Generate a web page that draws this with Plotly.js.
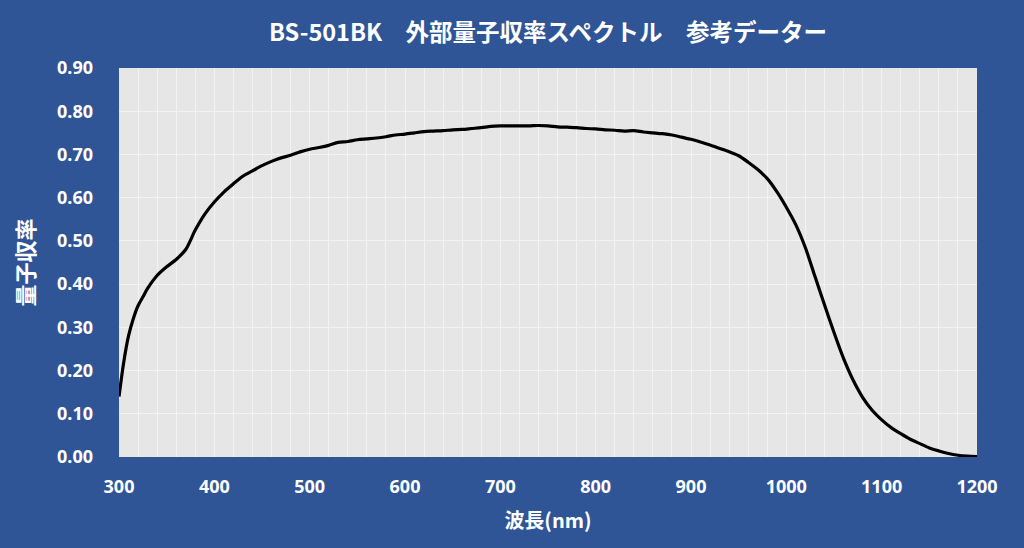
<!DOCTYPE html>
<html>
<head>
<meta charset="utf-8">
<script src="https://cdn.plot.ly/plotly-3.0.1.min.js"></script>
<style>
  html, body { margin: 0; padding: 0; background: #2f5597; }
  #chart { width: 1024px; height: 548px; }
</style>
</head>
<body>
<div id="chart"></div>
<script>
// Wavelength (nm) and external quantum efficiency
const wavelength = [
  300, 305, 310, 315, 320, 325, 330, 340, 350, 360,
  370, 380, 390, 400, 410, 420, 430, 440, 450, 460,
  470, 480, 490, 500, 510, 520, 530, 540, 550, 560,
  570, 580, 590, 600, 610, 620, 630, 640, 650, 660,
  670, 680, 690, 700, 710, 720, 730, 740, 750, 760,
  770, 780, 790, 800, 810, 820, 830, 840, 850, 860,
  870, 880, 890, 900, 910, 920, 930, 940, 950, 960,
  970, 980, 990, 1000, 1010, 1020, 1030, 1040, 1050, 1060,
  1070, 1080, 1090, 1100, 1110, 1120, 1130, 1140, 1150, 1160,
  1170, 1180, 1190, 1200
];
const eqe = [
  0.140, 0.220, 0.280, 0.320, 0.350, 0.370, 0.390, 0.420, 0.440, 0.457,
  0.480, 0.525, 0.562, 0.590, 0.613, 0.632, 0.650, 0.662, 0.674, 0.684,
  0.692, 0.698, 0.706, 0.712, 0.716, 0.721, 0.728, 0.730, 0.734, 0.736,
  0.738, 0.741, 0.745, 0.747, 0.750, 0.753, 0.754, 0.755, 0.757, 0.758,
  0.760, 0.762, 0.765, 0.766, 0.766, 0.766, 0.766, 0.767, 0.766, 0.764,
  0.763, 0.762, 0.760, 0.759, 0.757, 0.756, 0.754, 0.755, 0.752, 0.750,
  0.748, 0.745, 0.740, 0.735, 0.729, 0.722, 0.714, 0.706, 0.697, 0.682,
  0.665, 0.644, 0.614, 0.578, 0.537, 0.484, 0.418, 0.352, 0.288, 0.228,
  0.178, 0.138, 0.108, 0.086, 0.068, 0.054, 0.041, 0.031, 0.021, 0.014,
  0.008, 0.004, 0.002, 0.001
];
const yTicks = [0, 0.1, 0.2, 0.3, 0.4, 0.5, 0.6, 0.7, 0.8, 0.9];
const xTicks = [300, 400, 500, 600, 700, 800, 900, 1000, 1100, 1200];

const cjk = '"Noto Sans CJK JP", "Noto Sans", sans-serif';
const latin = '"Noto Sans", "Open Sans", sans-serif';

const trace = {
  x: wavelength,
  y: eqe,
  type: 'scatter',
  mode: 'lines',
  line: { color: '#000000', width: 3.2, shape: 'spline', smoothing: 0.8 },
  hoverinfo: 'x+y',
  showlegend: false
};

Plotly.newPlot('chart', [trace], {
  width: 1024,
  height: 548,
  title: {
    text: '<b>BS-501BK　外部量子収率スペクトル　参考データー</b>',
    font: { family: cjk, size: 23.5, color: '#ffffff' },
    x: 0.5,
    xref: 'paper',
    y: 0.94,
    yref: 'container',
    yanchor: 'middle'
  },
  xaxis: {
    range: [300, 1200],
    tickvals: xTicks,
    ticktext: xTicks.map(String),
    tickfont: { family: latin, size: 18, color: '#ffffff', weight: 'bold' },
    ticks: '',
    ticklabelstandoff: 17,
    showgrid: true,
    gridcolor: '#f3f3f3',
    gridwidth: 1,
    minor: { dtick: 20, showgrid: true, gridcolor: '#f3f3f3', gridwidth: 1 },
    zeroline: false,
    showline: false,
    fixedrange: true,
    title: {
      text: '<b>波長(nm)</b>',
      font: { family: cjk, size: 20, color: '#ffffff' },
      standoff: 16
    }
  },
  yaxis: {
    range: [0, 0.9],
    tickvals: yTicks,
    ticktext: yTicks.map(v => v.toFixed(2)),
    tickfont: { family: latin, size: 18, color: '#ffffff', weight: 'bold' },
    ticks: '',
    ticklabelstandoff: 25,
    showgrid: true,
    gridcolor: '#f3f3f3',
    gridwidth: 1,
    zeroline: false,
    showline: false,
    fixedrange: true,
    title: {
      text: '<b>量子収率</b>',
      font: { family: cjk, size: 22, color: '#ffffff' },
      standoff: 16
    }
  },
  margin: { l: 119, r: 47, t: 68, b: 91, autoexpand: false },
  paper_bgcolor: '#2f5597',
  plot_bgcolor: '#e7e6e6'
}, {
  displayModeBar: false
});
</script>
</body>
</html>
